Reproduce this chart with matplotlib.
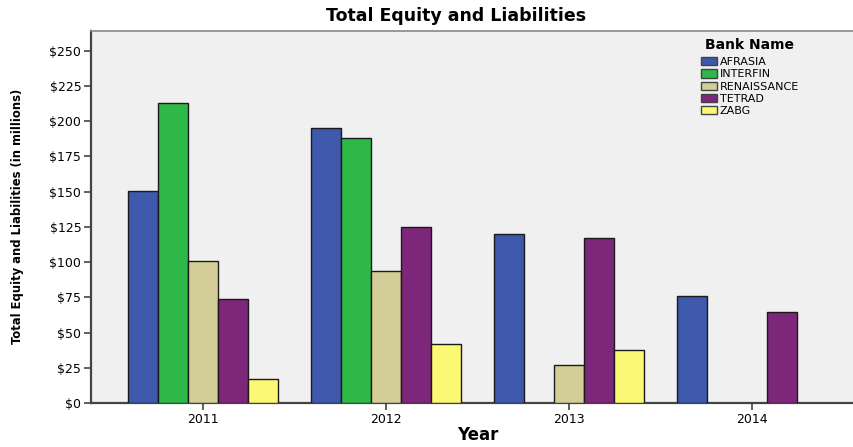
import numpy as np
import matplotlib.pyplot as plt

# Data (millions of $)
years = ["2011", "2012", "2013", "2014"]
banks = ["AFRASIA", "INTERFIN", "RENAISSANCE", "TETRAD", "ZABG"]
afrasia = [150.5, 195.5, 120.2, 75.8]
interfin = [213.0, 188.0, np.nan, np.nan]
renaissance = [101.0, 94.0, 27.3, np.nan]
tetrad = [73.7, 125.0, 116.8, 64.5]
zabg = [17.0, 41.7, 37.7, np.nan]
colors = ["#3E58AC", "#2EB848", "#D3CE97", "#7C2779", "#FBF873"]
yticks = [0, 25, 50, 75, 100, 125, 150, 175, 200, 225, 250]

series = [afrasia, interfin, renaissance, tetrad, zabg]

fig = plt.figure(figsize=(8.54, 4.47), dpi=100)
ax = fig.add_axes([0.1066, 0.0984, 0.8934, 0.8322])
ax.set_facecolor("#F0F0F0")

x = np.arange(len(years))
w = 0.164
for i, (vals, name, c) in enumerate(zip(series, banks, colors)):
    ax.bar(x + (i - 2) * w, vals, width=w, color=c, edgecolor="#1a1a1a",
           linewidth=1.0, label=name, zorder=3)

ax.set_xlim(-0.613, 3.56)
ax.set_ylim(0, 264)
ax.set_xticks(x)
ax.set_xticklabels(years, fontsize=9)
ax.set_yticks(yticks)
ax.set_yticklabels(["$%d" % v for v in yticks], fontsize=9)
ax.tick_params(axis="both", direction="out", length=5, width=1.2,
               color="#444444", pad=2)

for s in ["left", "bottom"]:
    ax.spines[s].set_color("#444444")
    ax.spines[s].set_linewidth(1.6)
ax.spines["top"].set_color("#888888")
ax.spines["top"].set_linewidth(1.2)
ax.spines["right"].set_visible(False)

fig.text(456 / 854, 1 - 16 / 447, "Total Equity and Liabilities", ha="center",
         va="center", fontsize=12.5, fontweight="bold")
fig.text(478 / 854, 1 - 435 / 447, "Year", ha="center", va="center",
         fontsize=12, fontweight="bold")
fig.text(18 / 854, 1 - 216 / 447, "Total Equity and Liabilities (in millions)",
         rotation=90, ha="center", va="center", fontsize=9.3, fontweight="bold",
         fontstretch="condensed", family="DejaVu Sans")

leg = ax.legend(loc="upper left", bbox_to_anchor=(695 / 854, 1 - 32 / 447),
                bbox_transform=fig.transFigure, frameon=False, fontsize=8,
                title="Bank Name", handlelength=1.45, handleheight=0.75,
                labelspacing=0.2, handletextpad=0.3, borderpad=0)
leg.get_title().set_fontweight("bold")
leg.get_title().set_fontsize(10)
leg._legend_box.align = "center"
leg._legend_box.sep = 4
for p in leg.get_patches():
    p.set_edgecolor("#444444")

fig.savefig("out.png", dpi=100)
